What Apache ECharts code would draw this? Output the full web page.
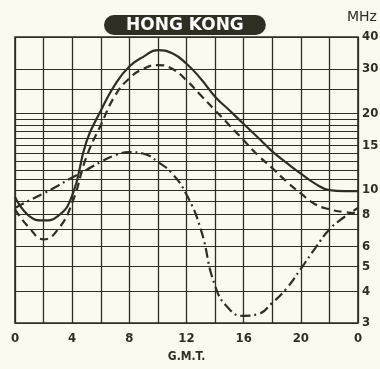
<!DOCTYPE html>
<html>
<head>
<meta charset="utf-8">
<title>Hong Kong MUF</title>
<script src="https://cdn.jsdelivr.net/npm/echarts@6/dist/echarts.min.js"></script>
<style>
  html, body { margin: 0; padding: 0; background: #fbfaef; }
  #chart { width: 380px; height: 369px; }
</style>
</head>
<body>
<div id="chart"></div>
<script>
// hours G.M.T. shared by the three curves
var hours      = [0, 1, 2, 3, 4, 5, 6, 7, 8, 9, 10, 11, 12, 13, 14, 15, 16, 17, 18, 19, 20, 21, 22, 23, 24];
var solidMHz   = [9.4, 7.9, 7.6, 7.9, 9.5, 15.5, 20.5, 26, 30.6, 33.5, 35.5, 34.5, 31.4, 27.4, 23.3, 20.6, 18.2, 16.1, 14.2, 12.8, 11.6, 10.6, 10, 9.9, 9.9];
var dashedMHz  = [8.4, 7.1, 6.4, 7.0, 8.9, 13.5, 18, 23.5, 27.5, 30, 31, 30, 27, 23.6, 20.6, 18, 15.7, 13.7, 12.2, 10.8, 9.7, 8.8, 8.4, 8.2, 8.1];
var dotDashMHz = [8.5, 9.1, 9.7, 10.4, 11.2, 12.0, 12.9, 13.7, 14.1, 13.9, 12.9, 11.6, 9.6, 7.0, 4.2, 3.4, 3.2, 3.25, 3.6, 4.1, 4.9, 5.9, 7.0, 7.8, 8.5];

// horizontal rulings of the frequency scale, and which of them carry a label
var gridMHz    = [3, 4, 5, 6, 7, 8, 9, 10, 11, 12, 13, 14, 15, 16, 17, 18, 19, 20, 25, 30, 40];
var labelMHz   = [3, 4, 5, 6, 8, 10, 15, 20, 30, 40];

var ink = '#2e2f22';
var chart = echarts.init(document.getElementById('chart'));

function pairs(ys) {
  return hours.map(function (h, i) { return [h, ys[i]]; });
}

function curve(ys, dash) {
  return {
    type: 'line',
    smooth: 0.5,
    showSymbol: false,
    data: pairs(ys),
    lineStyle: { color: ink, width: 2.2, type: dash }
  };
}

var option = {
  backgroundColor: '#fbfaef',
  animation: false,
  title: {
    text: 'HONG KONG',
    left: 104,
    top: 15,
    backgroundColor: ink,
    borderRadius: 10,
    padding: [2, 22, 1, 22],
    textStyle: { color: '#ffffff', fontSize: 17, fontWeight: 'bold', fontFamily: 'DejaVu Sans' }
  },
  graphic: [{
    type: 'text',
    left: 347,
    top: 10,
    style: { text: 'MHz', fill: ink, fontSize: 14, fontFamily: 'DejaVu Sans' }
  }],
  grid: {
    left: 15, right: 22, top: 37, bottom: 46,
    show: true,
    borderColor: ink,
    borderWidth: 1.6,
    backgroundColor: 'transparent'
  },
  xAxis: {
    type: 'value',
    min: 0, max: 24, interval: 2,
    name: 'G.M.T.',
    nameLocation: 'middle',
    nameGap: 28,
    nameTextStyle: { color: ink, fontSize: 12, fontWeight: 'bold', fontFamily: 'DejaVu Sans Condensed' },
    axisLine: { show: false },
    axisTick: { show: false },
    splitLine: { show: true, lineStyle: { color: ink, width: 1.3 } },
    axisLabel: {
      margin: 9,
      color: ink, fontSize: 13, fontWeight: 'bold', fontFamily: 'DejaVu Sans Condensed',
      showMinLabel: true, showMaxLabel: true,
      formatter: function (v) { return v % 4 === 0 ? String(v % 24) : ''; }
    }
  },
  yAxis: {
    type: 'log',
    logBase: 10,
    min: 3, max: 40,
    position: 'right',
    axisLine: { show: false },
    axisTick: { show: false },
    axisLabel: { show: false },
    splitLine: { show: false }
  },
  series: [
    {
      // rulings only
      type: 'line',
      data: [],
      silent: true,
      markLine: {
        silent: true,
        symbol: 'none',
        animation: false,
        lineStyle: { color: ink, width: 1.2, type: 'solid' },
        data: gridMHz.map(function (v) {
          return {
            yAxis: v,
            label: {
              show: labelMHz.indexOf(v) >= 0,
              position: 'end',
              distance: 4,
              formatter: String(v),
              color: ink, fontSize: 13, fontWeight: 'bold', fontFamily: 'DejaVu Sans Condensed'
            }
          };
        })
      }
    },
    curve(solidMHz, 'solid'),
    curve(dashedMHz, [8, 5]),
    curve(dotDashMHz, [10, 4, 2, 4])
  ]
};

chart.setOption(option);
</script>
</body>
</html>
